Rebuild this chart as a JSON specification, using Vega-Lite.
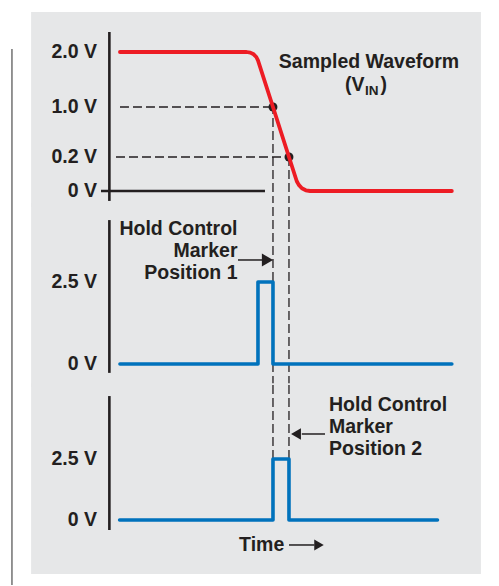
{
  "$schema": "https://vega.github.io/schema/vega-lite/v6.json",
  "padding": 0,
  "spacing": 0,
  "bounds": "flush",
  "background": "white",
  "config": {
    "view": {"stroke": null},
    "text": {"font": "Liberation Sans", "fontWeight": "bold", "fontSize": 19.5, "color": "#231f20"}
  },
  "vconcat": [
    {
      "width": 499,
      "height": 205,
      "encoding": {
        "x": {"field": "t", "type": "quantitative", "scale": {"domain": [-32, 114], "nice": false, "zero": false}, "axis": null},
        "y": {"field": "v", "type": "quantitative", "scale": {"domain": [-0.1, 0, 0.2, 1, 2, 3], "range": [205, 191, 157, 107, 52, 0], "nice": false, "zero": false}, "axis": null}
      },
      "layer": [
        {"data": {"values": [{"t": -22.9, "t2": 108.72, "v": -0.115, "v2": 2.77}]}, "mark": {"type": "rect", "color": "#e6e7e8"}, "encoding": {"x2": {"field": "t2"}, "y2": {"field": "v2"}}},
        {"data": {"values": [{"t": -28.5, "v": -0.1, "v2": 2.058}]}, "mark": {"type": "rule", "color": "#4d4d4d", "strokeWidth": 1.2}, "encoding": {"y2": {"field": "v2"}}},
        {"data": {"values": [{"t": 3.1, "t2": 47.87, "v": 1}, {"t": 1.94, "t2": 52.55, "v": 0.2}]}, "mark": {"type": "rule", "color": "#231f20", "strokeWidth": 1.3, "strokeDash": [9, 4]}, "encoding": {"x2": {"field": "t2"}}},
        {"data": {"values": [{"t": 47.87, "v": -0.1, "v2": 1}, {"t": 52.55, "v": -0.1, "v2": 0.2}]}, "mark": {"type": "rule", "color": "#231f20", "strokeWidth": 1.3, "strokeDash": [9, 4]}, "encoding": {"y2": {"field": "v2"}}},
        {"data": {"values": [{"t": 0, "v": -0.071, "v2": 2.385}]}, "mark": {"type": "rule", "color": "#231f20", "strokeWidth": 2.6}, "encoding": {"y2": {"field": "v2"}}},
        {"data": {"values": [{"t": -2.45, "t2": 45.53, "v": 0}]}, "mark": {"type": "rule", "color": "#231f20", "strokeWidth": 2.6}, "encoding": {"x2": {"field": "t2"}}},
        {"data": {"values": [{"t": 47.87, "v": 1}, {"t": 52.55, "v": 0.2}]}, "mark": {"type": "point", "filled": true, "color": "#231f20", "size": 80, "opacity": 1}, "encoding": {}},
        {
          "data": {"values": [
            {"i": 0, "t": 3.1, "v": 2.0},
            {"i": 1, "t": 40.15, "v": 2.0},
            {"i": 2, "t": 41.23, "v": 1.989},
            {"i": 3, "t": 42.22, "v": 1.958},
            {"i": 4, "t": 42.99, "v": 1.909},
            {"i": 5, "t": 43.48, "v": 1.848},
            {"i": 6, "t": 47.87, "v": 1.0},
            {"i": 7, "t": 52.55, "v": 0.2},
            {"i": 8, "t": 54.83, "v": 0.0571},
            {"i": 9, "t": 55.42, "v": 0.0359},
            {"i": 10, "t": 56.33, "v": 0.0159},
            {"i": 11, "t": 57.47, "v": 0.0041},
            {"i": 12, "t": 58.73, "v": 0},
            {"i": 13, "t": 100.2, "v": 0}
          ]},
          "mark": {"type": "line", "color": "#ed1c24", "strokeWidth": 3.8, "strokeCap": "round", "strokeJoin": "round"},
          "encoding": {"order": {"field": "i", "type": "quantitative"}}
        },
        {"data": {"values": [{"t": -3.62, "v": 2, "label": "2.0 V"}, {"t": -3.62, "v": 1, "label": "1.0 V"}, {"t": -3.62, "v": 0.2, "label": "0.2 V"}, {"t": -3.62, "v": 0, "label": "0 V"}]}, "mark": {"type": "text", "align": "right", "baseline": "middle"}, "encoding": {"text": {"field": "label"}}},
        {"data": {"values": [{"t": 75.96, "v": 1.818, "label": "Sampled Waveform"}]}, "mark": {"type": "text", "align": "center", "baseline": "middle"}, "encoding": {"text": {"field": "label"}}},
        {"data": {"values": [{"t": 74.64, "v": 1.4, "label": "(V"}]}, "mark": {"type": "text", "align": "right", "baseline": "middle"}, "encoding": {"text": {"field": "label"}}},
        {"data": {"values": [{"t": 74.79, "v": 1.3, "label": "IN"}]}, "mark": {"type": "text", "align": "left", "baseline": "middle", "fontSize": 13.5}, "encoding": {"text": {"field": "label"}}},
        {"data": {"values": [{"t": 79.3, "v": 1.4, "label": ")"}]}, "mark": {"type": "text", "align": "left", "baseline": "middle"}, "encoding": {"text": {"field": "label"}}}
      ]
    },
    {
      "width": 499,
      "height": 180,
      "encoding": {
        "x": {"field": "t", "type": "quantitative", "scale": {"domain": [-32, 114], "nice": false, "zero": false}, "axis": null},
        "y": {"field": "v", "type": "quantitative", "scale": {"domain": [-0.64, 4.85], "nice": false, "zero": false}, "axis": null}
      },
      "layer": [
        {"data": {"values": [{"t": -22.9, "t2": 108.72, "v": -0.7, "v2": 4.91}]}, "mark": {"type": "rect", "color": "#e6e7e8"}, "encoding": {"x2": {"field": "t2"}, "y2": {"field": "v2"}}},
        {"data": {"values": [{"t": -28.5, "v": -0.64, "v2": 4.85}]}, "mark": {"type": "rule", "color": "#4d4d4d", "strokeWidth": 1.2}, "encoding": {"y2": {"field": "v2"}}},
        {"data": {"values": [{"t": 47.87, "v": -0.64, "v2": 4.85}, {"t": 52.55, "v": -0.64, "v2": 4.85}]}, "mark": {"type": "rule", "color": "#231f20", "strokeWidth": 1.3, "strokeDash": [9, 4]}, "encoding": {"y2": {"field": "v2"}}},
        {"data": {"values": [{"t": 0, "v": -0.27, "v2": 4.39}]}, "mark": {"type": "rule", "color": "#231f20", "strokeWidth": 2.6}, "encoding": {"y2": {"field": "v2"}}},
        {
          "data": {"values": [
            {"i": 0, "t": 3.1, "v": 0},
            {"i": 1, "t": 43.48, "v": 0},
            {"i": 2, "t": 43.48, "v": 2.5},
            {"i": 3, "t": 47.87, "v": 2.5},
            {"i": 4, "t": 47.87, "v": 0},
            {"i": 5, "t": 100.2, "v": 0}
          ]},
          "mark": {"type": "line", "color": "#0072bc", "strokeWidth": 3.6, "strokeCap": "round", "strokeJoin": "round"},
          "encoding": {"order": {"field": "i", "type": "quantitative"}}
        },
        {"data": {"values": [{"t": -3.62, "v": 2.5, "label": "2.5 V"}, {"t": -3.62, "v": 0, "label": "0 V"}]}, "mark": {"type": "text", "align": "right", "baseline": "middle"}, "encoding": {"text": {"field": "label"}}},
        {"data": {"values": [{"t": 37.49, "v": 4.118, "label": "Hold Control\nMarker\nPosition 1"}]}, "mark": {"type": "text", "align": "right", "baseline": "middle", "lineBreak": "\n", "lineHeight": 22}, "encoding": {"text": {"field": "label"}}},
        {"data": {"values": [{"t": 37.63, "t2": 45.2, "v": 3.173}]}, "mark": {"type": "rule", "color": "#231f20", "strokeWidth": 1.5}, "encoding": {"x2": {"field": "t2"}}},
        {"data": {"values": [{"t": 46.26, "v": 3.173}]}, "mark": {"type": "point", "shape": "triangle-right", "filled": true, "color": "#231f20", "size": 169, "opacity": 1}, "encoding": {}}
      ]
    },
    {
      "width": 499,
      "height": 201,
      "encoding": {
        "x": {"field": "t", "type": "quantitative", "scale": {"domain": [-32, 114], "nice": false, "zero": false}, "axis": null},
        "y": {"field": "v", "type": "quantitative", "scale": {"domain": [-2.705, 5.533], "nice": false, "zero": false}, "axis": null}
      },
      "layer": [
        {"data": {"values": [{"t": -22.9, "t2": 108.72, "v": -2.213, "v2": 5.6}]}, "mark": {"type": "rect", "color": "#e6e7e8"}, "encoding": {"x2": {"field": "t2"}, "y2": {"field": "v2"}}},
        {"data": {"values": [{"t": -28.5, "v": -2.664, "v2": 5.533}]}, "mark": {"type": "rule", "color": "#4d4d4d", "strokeWidth": 1.2}, "encoding": {"y2": {"field": "v2"}}},
        {"data": {"values": [{"t": 47.87, "v": 2.5, "v2": 5.533}, {"t": 52.55, "v": 2.5, "v2": 5.533}]}, "mark": {"type": "rule", "color": "#231f20", "strokeWidth": 1.3, "strokeDash": [9, 4]}, "encoding": {"y2": {"field": "v2"}}},
        {"data": {"values": [{"t": 0, "v": -0.41, "v2": 5.08}]}, "mark": {"type": "rule", "color": "#231f20", "strokeWidth": 2.6}, "encoding": {"y2": {"field": "v2"}}},
        {
          "data": {"values": [
            {"i": 0, "t": 3.0, "v": 0},
            {"i": 1, "t": 47.87, "v": 0},
            {"i": 2, "t": 47.87, "v": 2.5},
            {"i": 3, "t": 52.55, "v": 2.5},
            {"i": 4, "t": 52.55, "v": 0},
            {"i": 5, "t": 96.0, "v": 0}
          ]},
          "mark": {"type": "line", "color": "#0072bc", "strokeWidth": 3.6, "strokeCap": "round", "strokeJoin": "round"},
          "encoding": {"order": {"field": "i", "type": "quantitative"}}
        },
        {"data": {"values": [{"t": -3.62, "v": 2.5, "label": "2.5 V"}, {"t": -3.62, "v": 0, "label": "0 V"}]}, "mark": {"type": "text", "align": "right", "baseline": "middle"}, "encoding": {"text": {"field": "label"}}},
        {"data": {"values": [{"t": 64.26, "v": 4.713, "label": "Hold Control\nMarker\nPosition 2"}]}, "mark": {"type": "text", "align": "left", "baseline": "middle", "lineBreak": "\n", "lineHeight": 22}, "encoding": {"text": {"field": "label"}}},
        {"data": {"values": [{"t": 56.3, "t2": 63.09, "v": 3.525}]}, "mark": {"type": "rule", "color": "#231f20", "strokeWidth": 1.5}, "encoding": {"x2": {"field": "t2"}}},
        {"data": {"values": [{"t": 54.6, "v": 3.525}]}, "mark": {"type": "point", "shape": "triangle-left", "filled": true, "color": "#231f20", "size": 130, "opacity": 1}, "encoding": {}},
        {"data": {"values": [{"t": 51.18, "v": -1.024, "label": "Time"}]}, "mark": {"type": "text", "align": "right", "baseline": "middle"}, "encoding": {"text": {"field": "label"}}},
        {"data": {"values": [{"t": 52.55, "t2": 60.0, "v": -1.024}]}, "mark": {"type": "rule", "color": "#231f20", "strokeWidth": 1.5}, "encoding": {"x2": {"field": "t2"}}},
        {"data": {"values": [{"t": 61.33, "v": -1.024}]}, "mark": {"type": "point", "shape": "triangle-right", "filled": true, "color": "#231f20", "size": 120, "opacity": 1}, "encoding": {}}
      ]
    }
  ]
}
